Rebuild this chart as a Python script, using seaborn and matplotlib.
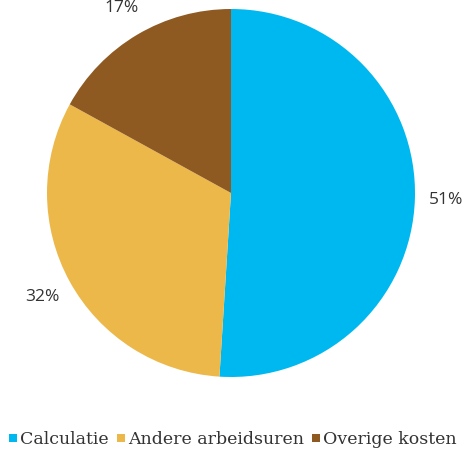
import matplotlib
matplotlib.use("Agg")
import matplotlib.pyplot as plt
from matplotlib.lines import Line2D
import seaborn as sns

categories = ["Calculatie", "Andere arbeidsuren", "Overige kosten"]
shares = [51, 32, 17]
colors = ["#00B8F0", "#EDB84A", "#8E5A22"]

sns.set_theme(style="white")
plt.rcParams['font.family'] = ['Open Sans', 'DejaVu Sans']

fig = plt.figure(figsize=(4.65, 4.57), dpi=100)
ax = fig.add_axes([47 / 465, 80 / 457, 368 / 465, 368 / 457])

wedges, texts, autotexts = ax.pie(
    shares, colors=colors, startangle=90, counterclock=False,
    autopct="%d%%", pctdistance=1.17,
    textprops=dict(fontsize=12.5, color="#333333"),
    wedgeprops=dict(linewidth=0),
)
ax.set_xlim(-1, 1)
ax.set_ylim(-1, 1)

handles = [Line2D([], [], marker="s", linestyle="none", markersize=5.5,
                  markerfacecolor=c, markeredgewidth=0) for c in colors]
leg = fig.legend(handles, categories, loc="center", bbox_to_anchor=(0.5, 1 - 440 / 457),
                 ncol=3, frameon=False, handlelength=0.6, handletextpad=0.1,
                 columnspacing=0.4, borderaxespad=0,
                 prop=dict(family="DejaVu Serif", size=12.5))
for t in leg.get_texts():
    t.set_color("#333333")

fig.savefig("out.png", dpi=100)
